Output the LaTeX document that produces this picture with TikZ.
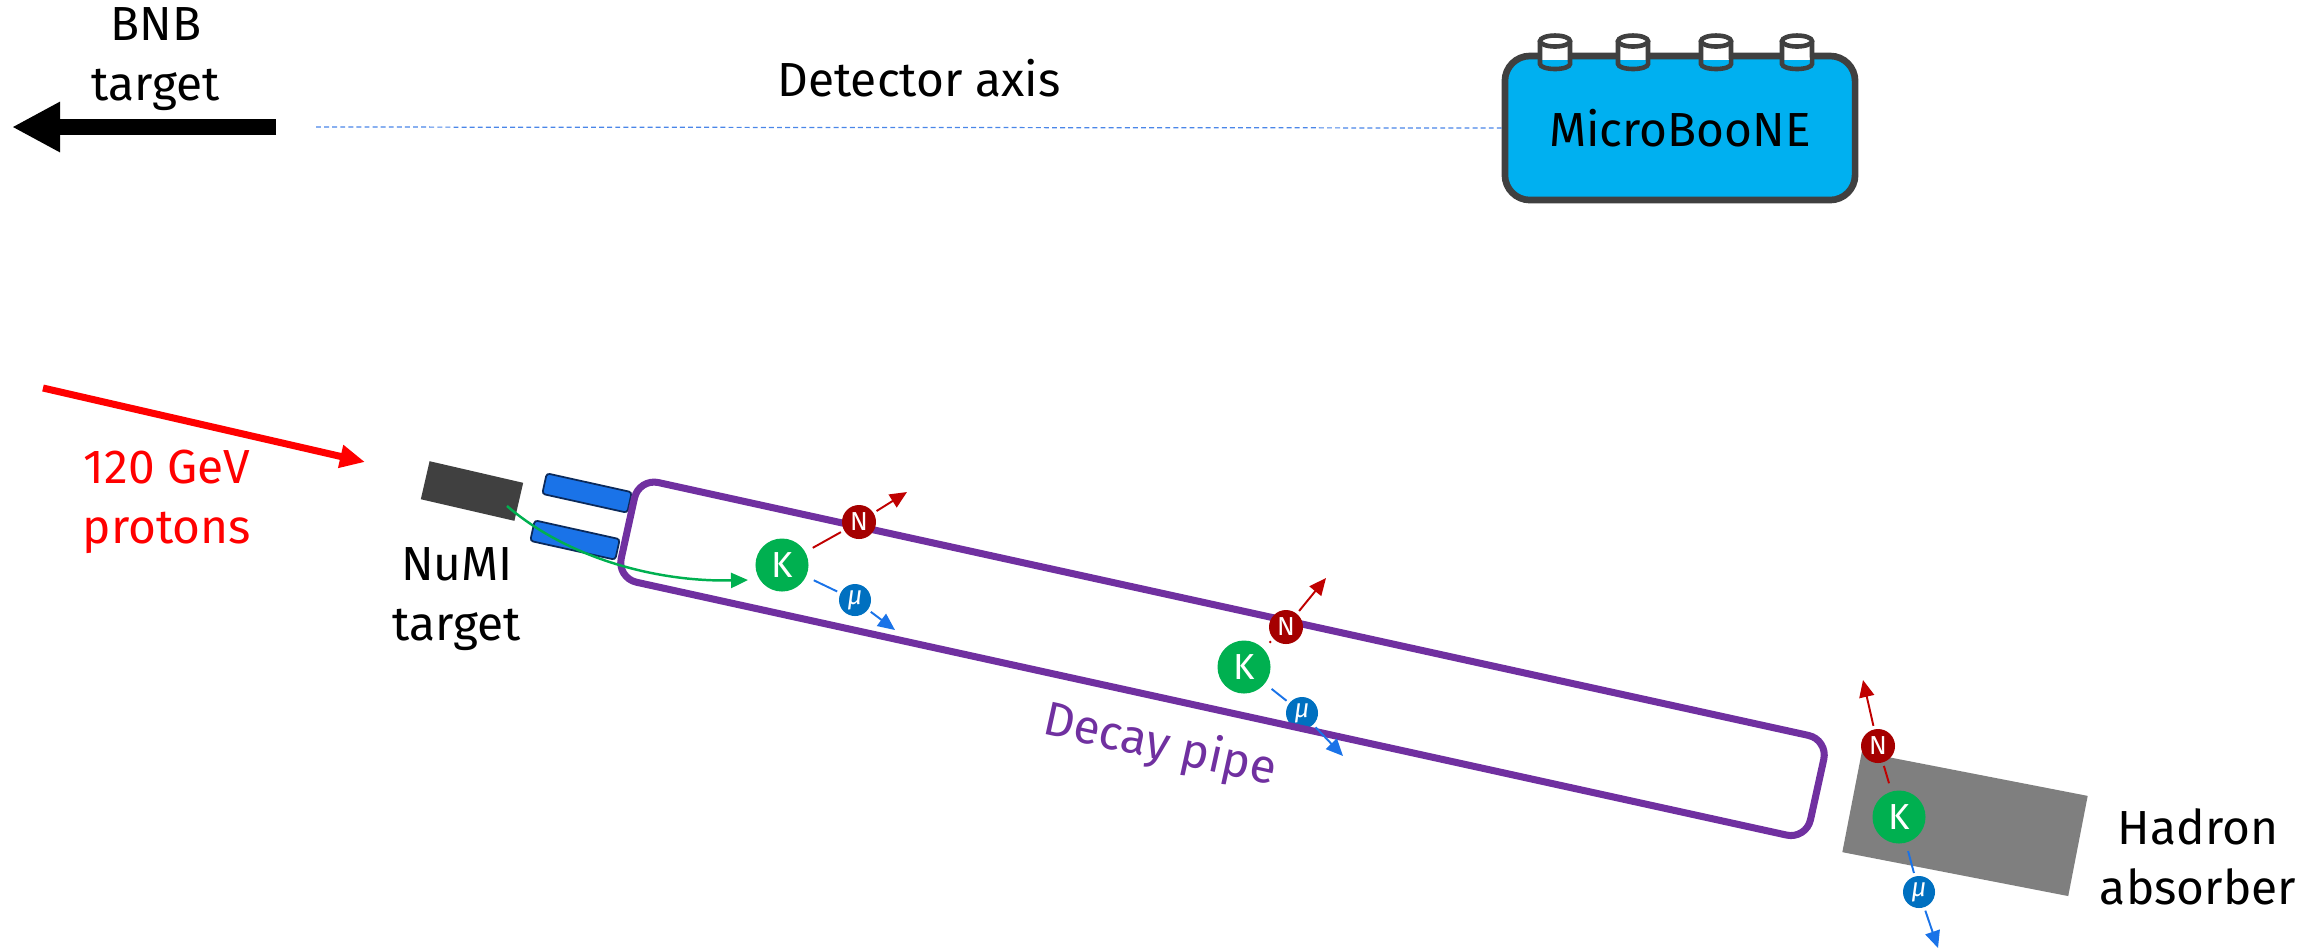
\documentclass[tikz,border=0pt]{standalone}
\usepackage{fontspec}
\setmainfont{Fira Sans}
\usetikzlibrary{arrows.meta}
\definecolor{mbblue}{HTML}{00B0F0}
\definecolor{mbgray}{HTML}{404040}
\definecolor{axisblue}{HTML}{4A86E8}
\definecolor{pipepurple}{HTML}{7030A0}
\definecolor{horn}{HTML}{1A73E8}
\definecolor{hornedge}{HTML}{0B2A5B}
\definecolor{kgreen}{HTML}{00B050}
\definecolor{nred}{HTML}{A50000}
\definecolor{mublue}{HTML}{0070C0}
\definecolor{absgray}{HTML}{7F7F7F}
\definecolor{protonred}{HTML}{FF0000}
\definecolor{arrred}{HTML}{C00000}
\definecolor{arrblue}{HTML}{1A73E8}
\begin{document}
\begin{tikzpicture}[x=0.01cm,y=-0.01cm,
  font=\fontsize{13.6}{17}\selectfont,
  lbl/.style={align=center,inner sep=0pt},
  kpart/.style={circle,fill=kgreen,text=white,inner sep=0pt,minimum size=0.53cm,font=\fontsize{10.3}{12}\selectfont},
  npart/.style={circle,fill=nred,text=white,inner sep=0pt,minimum size=0.34cm,font=\fontsize{7.4}{9}\selectfont},
  mupart/.style={circle,fill=mublue,text=white,inner sep=0pt,minimum size=0.32cm,font=\fontsize{7.4}{9}\selectfont\itshape},
  redline/.style={draw=arrred,line width=0.55pt,shorten <=0.08cm,shorten >=0.03cm},
  blueline/.style={draw=arrblue,line width=0.55pt,shorten <=0.08cm,shorten >=0.03cm},
  redarrow/.style={draw=arrred,line width=0.55pt,-{Triangle[length=0.17cm,width=0.15cm]},shorten <=0.03cm},
  bluearrow/.style={draw=arrblue,line width=0.55pt,-{Triangle[length=0.17cm,width=0.15cm]},shorten <=0.03cm},
  hornbox/.style={draw=hornedge,fill=horn,line width=0.5pt,rounded corners=0.03cm,minimum width=0.87cm,minimum height=0.21cm,inner sep=0pt,rotate=-12.5},
]
\useasboundingbox (0,0) rectangle (2318,950);

% BNB target arrow
\node[lbl] (bnb) at (156,59) {BNB\\target};
\coordinate (bnbtail) at (276,127);
\coordinate (bnbtip) at (12,127);
\draw[line width=4.55pt,-{Triangle[length=0.48cm,width=0.47cm]}] (bnbtail) -- (bnbtip);

% MicroBooNE
\node[draw=mbgray,fill=mbblue,line width=1.9pt,rounded corners=0.25cm,minimum width=3.50cm,minimum height=1.44cm,inner sep=0pt] (mb) at (1680,128) {MicroBooNE};
\foreach \cx in {1555,1633,1716,1797}{
  \fill[white] (\cx-15,41) rectangle (\cx+15,60);
  \draw[mbgray,line width=1.3pt] (\cx-15,41) -- (\cx-15,64) arc[start angle=180,end angle=360,x radius=0.15cm,y radius=0.05cm] -- (\cx+15,41);
  \draw[mbgray,fill=white,line width=1.3pt] (\cx,41) ellipse[x radius=0.15cm,y radius=0.055cm];
}
\coordinate (axisstart) at (316,127);
\draw[axisblue,line width=0.35pt,dash pattern=on 1.4pt off 0.9pt] (axisstart) -- (mb.west);
\node[lbl] (detax) at (919,78) {Detector axis};

% protons
\coordinate (pstart) at (43,388);
\coordinate (pend) at (365,462);
\draw[protonred,line width=2pt,-{Triangle[length=0.25cm,width=0.22cm]}] (pstart) -- (pend);
\node[lbl,text=protonred] (ptxt) at (167,502) {120 GeV\\protons};

% NuMI target and horns
\node[fill=mbgray,minimum width=0.96cm,minimum height=0.39cm,inner sep=0pt,rotate=-13] (numi) at (472,491) {};
\node[lbl] (numitxt) at (457,599) {NuMI\\target};
\node[hornbox] (horn1) at (587,493) {};
\node[hornbox] (horn2) at (575,540) {};

% muon behind pipe (set 2)
\node[mupart] (mu2) at (1302,713) {μ};

% decay pipe
\node[draw=pipepurple,line width=2pt,rounded corners=0.2cm,minimum width=12.17cm,minimum height=1.02cm,inner sep=0pt,rotate=-12.4] (pipe) at (1222.5,658.8) {};
\node[text=pipepurple,rotate=-12.4,inner sep=0pt] (pipetxt) at (1160,746) {Decay pipe};

% hadron absorber
\node[fill=absgray,minimum width=2.30cm,minimum height=1.02cm,inner sep=0pt,rotate=-11] (abs) at (1965,824) {};
\node[lbl] (abstxt) at (2198,857) {Hadron\\absorber};

% green kaon track
\coordinate (gstart) at (507,506);
\coordinate (gend) at (748,580);
\draw[kgreen,line width=0.7pt,-{Triangle[length=0.17cm,width=0.15cm]}] (gstart) .. controls (570,560) and (660,582) .. (gend);

% set 1
\node[kpart] (K1) at (782,565) {K};
\node[npart] (N1) at (859,522) {N};
\node[mupart] (mu1) at (855,600) {μ};
\coordinate (N1tip) at (907,492);
\coordinate (mu1tip) at (895,630);
\draw[redline] (K1) -- (N1);
\draw[redarrow] (N1) -- (N1tip);
\draw[blueline] (K1) -- (mu1);
\draw[bluearrow] (mu1) -- (mu1tip);

% set 2
\node[kpart] (K2) at (1244,667) {K};
\node[npart] (N2) at (1286,627) {N};
\coordinate (N2tip) at (1326,578);
\coordinate (mu2tip) at (1343,756);
\draw[redline] (K2) -- (N2);
\draw[redarrow] (N2) -- (N2tip);
\draw[blueline] (K2) -- (mu2);
\draw[bluearrow] (mu2) -- (mu2tip);

% set 3
\node[kpart] (K3) at (1899,817) {K};
\node[npart] (N3) at (1878,746) {N};
\node[mupart] (mu3) at (1919,892) {μ};
\coordinate (N3tip) at (1863,680);
\coordinate (mu3tip) at (1938,948);
\draw[redline] (K3) -- (N3);
\draw[redarrow] (N3) -- (N3tip);
\draw[blueline] (K3) -- (mu3);
\draw[bluearrow] (mu3) -- (mu3tip);
\end{tikzpicture}
\end{document}
